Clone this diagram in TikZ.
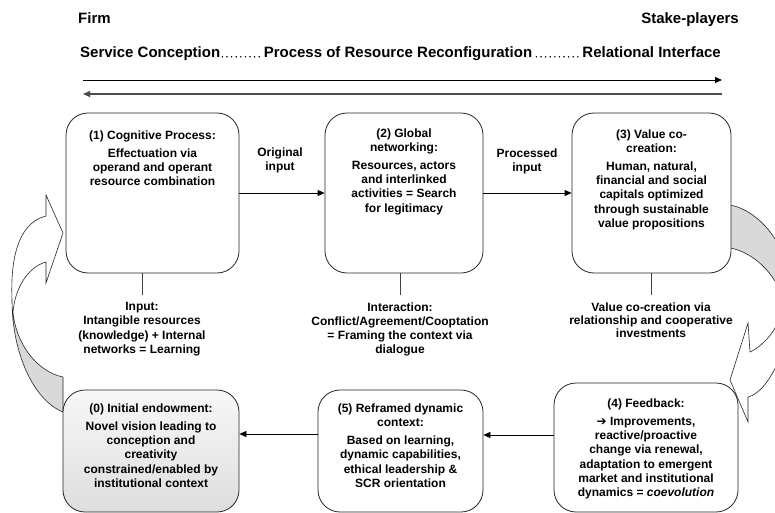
\documentclass[tikz,border=0pt]{standalone}
\usepackage{fontspec}
\setmainfont{Liberation Sans}
\newfontfamily\arrowfont{DejaVu Sans}
\usetikzlibrary{arrows.meta,calc}

\tikzset{
  box/.style={draw=black!85, line width=0.8pt, rounded corners=22pt, fill=white, inner sep=0pt},
  txt/.style={align=center, inner sep=0pt, anchor=north, font=\fontsize{12}{14.2}\selectfont\bfseries},
  head/.style={inner sep=0pt, font=\fontsize{15}{18}\selectfont\bfseries},
  arr/.style={line width=0.8pt, -{Triangle[length=7pt,width=6pt]}},
  conn/.style={line width=0.8pt, draw=black!75, shorten <=7pt},
  band/.style={draw=black!85, line width=0.6pt, line join=miter},
  dotsep/.style={line width=1.7pt, line cap=round, dash pattern=on 0pt off 4.6pt},
}

\begin{document}
\begin{tikzpicture}[x=1pt,y=-1pt]
\useasboundingbox (0,0) rectangle (775,513);

% ---------- header ----------
\node[head, anchor=base west] (firm) at (78,24) {Firm};
\node[head, anchor=base east] (stake) at (739,24) {Stake-players};
\node[head, anchor=base west] (sc) at (80,58) {Service Conception};
\node[head, anchor=base] (pr) at (398,58) {Process of Resource Reconfiguration};
\node[head, anchor=base east] (ri) at (721,58) {Relational Interface};
\draw[dotsep] ([xshift=2pt,yshift=1.2pt]sc.base east) -- ([xshift=-1.5pt,yshift=1.2pt]pr.base west);
\draw[dotsep] ([xshift=4pt,yshift=1.2pt]pr.base east) -- ([xshift=-1.5pt,yshift=1.2pt]ri.base west);

\coordinate (ha) at (83,80);  \coordinate (hb) at (722,80);
\coordinate (hc) at (722,94); \coordinate (hd) at (83,94);
\draw[arr] (ha) -- (hb);
\draw[arr, draw=black!70, fill=black!70, line width=1.4pt] (hc) -- (hd);

% ---------- curved return arrow on the left ----------
\fill[white] (63,233) -- (46,195) -- (46,216)
  .. controls (22,222) and (10,250) .. (12,300)
  .. controls (12,352) and (33,400) .. (63,412) -- (63,377)
  .. controls (38,372) and (16,345) .. (13,312)
  .. controls (15,288) and (28,267) .. (46,262) -- (46,283) -- cycle;
\fill[black!15] (12,300) .. controls (12,352) and (33,400) .. (63,412) -- (63,377)
  .. controls (38,372) and (16,345) .. (13,312) -- cycle;
\draw[band] (63,233) -- (46,195) -- (46,216)
  .. controls (22,222) and (10,250) .. (12,300)
  .. controls (12,352) and (33,400) .. (63,412) -- (63,377)
  .. controls (38,372) and (16,345) .. (13,312)
  .. controls (15,288) and (28,267) .. (46,262) -- (46,283) -- cycle;

% ---------- curved arrow on the right ----------
\begin{scope}
\clip (0,0) rectangle (775,513);
\fill[white] (730,205) .. controls (758,210) and (792,245) .. (792,300)
  .. controls (792,340) and (770,392) .. (748,397) -- (748,422) -- (730,380)
  -- (748,323) -- (750,352) .. controls (765,345) and (782,325) .. (782,304)
  .. controls (782,280) and (755,252) .. (730,248) -- cycle;
\fill[black!15] (730,205) .. controls (758,210) and (792,245) .. (792,300)
  -- (782,304) .. controls (782,280) and (755,252) .. (730,248) -- cycle;
\draw[band] (730,205) .. controls (758,210) and (792,245) .. (792,300)
  .. controls (792,340) and (770,392) .. (748,397) -- (748,422) -- (730,380)
  -- (748,323) -- (750,352) .. controls (765,345) and (782,325) .. (782,304)
  .. controls (782,280) and (755,252) .. (730,248) -- cycle;
\end{scope}

% ---------- boxes ----------
\node[box, minimum width=173pt, minimum height=160pt] (b1) at (152.5,193) {};
\node[box, minimum width=158pt, minimum height=160pt] (b2) at (404,193) {};
\node[box, minimum width=159pt, minimum height=160pt] (b3) at (651.5,193) {};
\node[box, top color=black!3, bottom color=black!13, minimum width=176pt, minimum height=122pt] (b0) at (151,451) {};
\node[box, minimum width=165pt, minimum height=122pt] (b5) at (400.5,451) {};
\node[box, minimum width=184pt, minimum height=129pt] (b4) at (646,447.5) {};

\node[txt] (t1) at (152.5,130.3) {(1) Cognitive Process:\\[4pt]Effectuation via\\operand and operant\\resource combination};
\node[txt] (t2) at (404,128.3) {(2) Global\\networking:\\[4pt]Resources, actors\\and interlinked\\activities = Search\\for legitimacy};
\node[txt] (t3) at (651.5,129.3) {(3) Value co-\\creation:\\[4pt]Human, natural,\\financial and social\\capitals optimized\\through sustainable\\value propositions};
\node[txt] (t0) at (151,403.3) {(0) Initial endowment:\\[4pt]Novel vision leading to\\conception and\\creativity\\constrained/enabled by\\institutional context};
\node[txt] (t5) at (400.5,403.3) {(5) Reframed dynamic\\context:\\[4pt]Based on learning,\\dynamic capabilities,\\ethical leadership \&\\SCR orientation};
\node[txt] (t4) at (646,398.3) {(4) Feedback:\\[4pt]{\arrowfont ➔} Improvements,\\reactive/proactive\\change via renewal,\\adaptation to emergent\\market and institutional\\dynamics = \textit{coevolution}};

% ---------- labels and connectors ----------
\node[txt] (oi) at (280,147.3) {Original\\input};
\node[txt] (pi) at (527,148.3) {Processed\\input};
\draw[arr] (b1.east) -- (b2.west);
\draw[arr] (b2.east) -- (b3.west);

\node[txt] (lin) at (142,302.3) {Input:\\Intangible resources\\(knowledge) + Internal\\networks = Learning};
\node[txt] (lint) at (400,302.3) {Interaction:\\Conflict/Agreement/Cooptation\\= Framing the context via\\dialogue};
\node[txt, font=\fontsize{12}{13.4}\selectfont\bfseries] (lval) at (651,302.3) {Value co-creation via\\relationship and cooperative\\investments};
\draw[conn] (lin.north) -- (lin.north |- b1.south);
\draw[conn] (lint.north) -- (lint.north |- b2.south);
\draw[conn] (lval.north) -- (lval.north |- b3.south);

\draw[arr] ([yshift=12.5pt]b4.west) -- ([yshift=16pt]b5.east);
\draw[arr] ([yshift=17pt]b5.west) -- ([yshift=17pt]b0.east);
\end{tikzpicture}
\end{document}
